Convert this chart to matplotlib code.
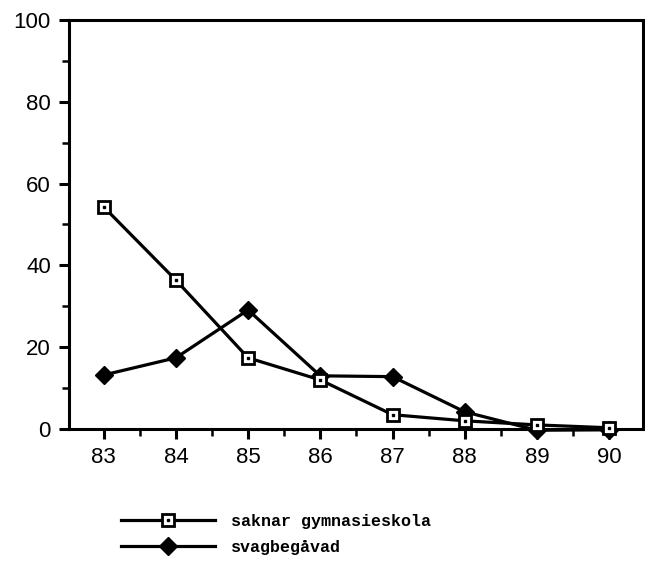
import matplotlib.pyplot as plt
from matplotlib.lines import Line2D
from matplotlib.legend_handler import HandlerTuple
import numpy as np

years = [83, 84, 85, 86, 87, 88, 89, 90]
year_labels = ["83", "84", "85", "86", "87", "88", "89", "90"]
saknar = [54.3, 36.4, 17.4, 12.0, 3.5, 2.0, 1.0, 0.3]
svagbegavad = [13.2, 17.4, 29.1, 13.0, 12.8, 4.2, -0.3, -0.2]

plt.rcParams['font.family'] = ['Liberation Sans', 'DejaVu Sans']

fig = plt.figure(figsize=(6.45, 5.65), dpi=100)
ax = fig.add_axes([0.107, 0.2407, 0.890, 0.724])

lw = 2.3
ax.plot(years, svagbegavad, color='black', lw=lw, marker='D', ms=9,
        mfc='black', mec='black', zorder=3, clip_on=False)
ax.plot(years, saknar, color='black', lw=lw, marker='s', ms=9,
        mfc='white', mec='black', mew=2.0, zorder=4, clip_on=False)
ax.plot(years, saknar, ls='none', marker='s', ms=1.8, color='black', zorder=5,
        clip_on=False)

ax.set_xlim(82.52, 90.47)
ax.set_ylim(0, 100)
ax.set_xticks(years)
ax.set_xticklabels(year_labels)
ax.set_xticks(np.arange(83.5, 90, 1), minor=True)
ax.set_yticks([0, 20, 40, 60, 80, 100])
ax.set_yticks([10, 30, 50, 70, 90], minor=True)

for s in ax.spines.values():
    s.set_linewidth(2.2)
ax.tick_params(axis='both', which='major', direction='out', length=7, width=2.2,
               labelsize=16, pad=6)
ax.tick_params(axis='both', which='minor', direction='out', length=5, width=1.8)

h1 = (Line2D([], [], color='black', lw=lw, marker='s', ms=9, mfc='white',
             mec='black', mew=2.0),
      Line2D([], [], ls='none', marker='s', ms=1.8, color='black'))
h2 = Line2D([], [], color='black', lw=lw, marker='D', ms=9, mfc='black')
fig.legend([h1, h2], ['saknar gymnasieskola', 'svagbegåvad'],
           handler_map={tuple: HandlerTuple(ndivide=1, pad=0)},
           loc='upper left', bbox_to_anchor=(0.165, 0.117), frameon=False,
           handlelength=5.6, handletextpad=1.0, labelspacing=0.65,
           prop={'family': 'Liberation Mono', 'weight': 'bold', 'size': 12})

fig.savefig('out.png', dpi=100)
